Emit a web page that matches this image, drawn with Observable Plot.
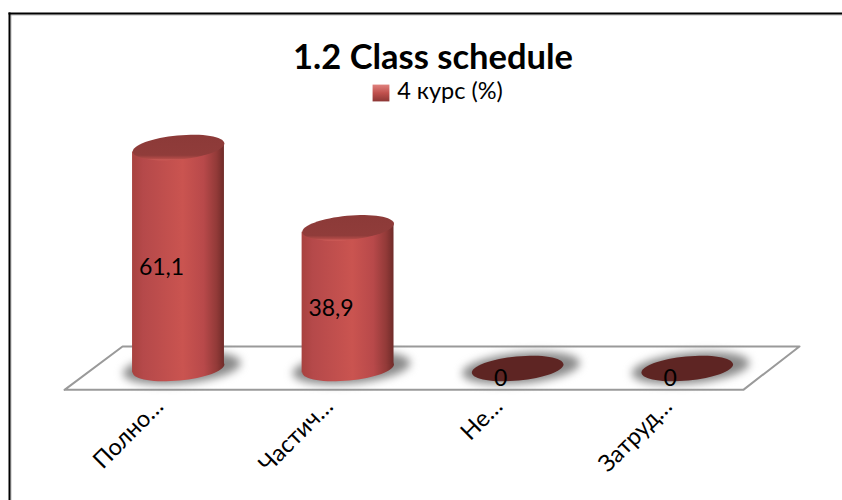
<!DOCTYPE html>
<html>
<head>
<meta charset="utf-8">
<script src="https://cdn.jsdelivr.net/npm/d3@7"></script>
<script src="https://cdn.jsdelivr.net/npm/@observablehq/plot@0.6"></script>
<style>
html,body{margin:0;padding:0;background:#fff}
#chart{width:842px;height:500px}
svg{display:block}
</style>
</head>
<body>
<div id="chart"></div>
<script>
const categories = ["Полно…", "Частич…", "Не…", "Затруд…"];
const values = [61.1, 38.9, 0, 0];
const valueLabels = ["61,1", "38,9", "0", "0"];
const chartTitle = "1.2 Class schedule";
const legendLabel = "4 курс (%)";
const floorX = [-0.672, 3.331, 3.662, -0.330, -0.672];
const floorY = [-5.9, -5.9, 6.1, 6.1, -5.9];

const rows = categories.map((c, i) => ({i, c, v: values[i], label: valueLabels[i]}));
const halfWidth = 0.271;
const tilt = 1.25;

const ellipse = {
  draw(ctx, size) {
    const rx = Math.sqrt(size / Math.PI), ry = rx * 0.262, a = -0.095;
    const n = 64;
    for (let k = 0; k < n; k++) {
      const t = (k / n) * 2 * Math.PI;
      const ex = rx * Math.cos(t), ey = ry * Math.sin(t);
      const px = ex * Math.cos(a) - ey * Math.sin(a);
      const py = ex * Math.sin(a) + ey * Math.cos(a);
      k ? ctx.lineTo(px, py) : ctx.moveTo(px, py);
    }
    ctx.closePath();
  }
};

const bodies = rows.filter(d => d.v > 0).flatMap(d => [
  {i: d.i, x: d.i - halfWidth, y1: -tilt, y2: d.v - tilt},
  {i: d.i, x: d.i + halfWidth, y1: tilt, y2: d.v + tilt}
]);

const defs = () => {
  const s = d3.create("svg:defs");
  const grad = (id, stops, vertical) => {
    const g = s.append("linearGradient").attr("id", id).attr("x1", 0).attr("y1", 0)
      .attr("x2", vertical ? 0 : 1).attr("y2", vertical ? 1 : 0);
    stops.forEach(([o, c]) => g.append("stop").attr("offset", o).attr("stop-color", c));
  };
  const side = [[0, "#a8423f"], [0.12, "#b5494a"], [0.55, "#ca5450"], [0.78, "#b8494a"], [0.92, "#923a38"], [1, "#6f2b29"]];
  grad("side", side, false);
  grad("sideEllipse", side, false);
  grad("cap", [[0, "#8c3a38"], [0.8, "#903c3a"], [0.93, "#b04a47"], [1, "#d2605b"]], true);
  grad("swatch", [[0, "#e0827e"], [0.5, "#c0504d"], [1, "#8c3634"]], true);
  return s.node();
};

const font = "Lato, Carlito, 'Open Sans', sans-serif";

const plot = Plot.plot({
  width: 842,
  height: 500,
  marginTop: 13,
  marginLeft: 9,
  marginRight: 0,
  marginBottom: 0,
  x: {type: "linear", domain: [0, 3], range: [178, 686.7], axis: null},
  y: {type: "linear", domain: [0, 61.1], range: [368, 147], axis: null},
  style: {background: "#fff", fontFamily: font},
  marks: [
    defs,
    Plot.frame({anchor: "top", stroke: "#bbb", strokeWidth: 1, dy: 1.5}),
    Plot.frame({anchor: "left", stroke: "#bbb", strokeWidth: 1, dx: 1.5}),
    Plot.frame({anchor: "top", stroke: "#000", strokeWidth: 2}),
    Plot.frame({anchor: "left", stroke: "#000", strokeWidth: 2}),
    Plot.line(floorX.map((x, k) => ({x, y: floorY[k]})), {
      x: "x", y: "y", fill: "#fff", stroke: "#9a9a9a", strokeWidth: 2, curve: "linear"
    }),
    Plot.dot(rows, {
      x: d => d.i + 0.02, y: d => 0.1, r: 59, symbol: ellipse,
      fill: "#8a8a8a", imageFilter: "blur(4px)"
    }),
    Plot.dot(rows.filter(d => d.v > 0), {x: "i", y: 0, r: 46, symbol: ellipse, fill: "url(#sideEllipse)"}),
    Plot.areaY(bodies, {x: "x", y1: "y1", y2: "y2", z: "i", fill: "url(#side)", curve: "linear"}),
    Plot.dot(rows.filter(d => d.v > 0), {x: "i", y: "v", r: 46, symbol: ellipse, fill: "url(#cap)"}),
    Plot.dot(rows.filter(d => d.v === 0), {x: "i", y: 0, r: 46, symbol: ellipse, fill: "#5e2523"}),
    Plot.text(rows, {
      x: "i", y: d => d.v / 2, text: "label", dx: -17, dy: 10,
      fontSize: 23, fill: "#000"
    }),
    Plot.text(rows, {
      x: "i", y: 0, text: "c", dx: -19, dy: 34, rotate: -45,
      textAnchor: "end", fontSize: 23.5, fill: "#000"
    }),
    Plot.text([chartTitle], {
      frameAnchor: "top", dx: 7, dy: 31, text: d => d,
      fontSize: 34.5, fontWeight: 700, fill: "#000", lineAnchor: "top"
    }),
    Plot.dot([legendLabel], {
      frameAnchor: "top", dx: -45, dy: 79.5, r: 9.5, symbol: "square",
      fill: "url(#swatch)"
    }),
    Plot.text([legendLabel], {
      frameAnchor: "top", dx: 24, dy: 69, text: d => d,
      fontSize: 23.5, fill: "#000", lineAnchor: "top"
    })
  ]
});
document.getElementById("chart").append(plot);
</script>
</body>
</html>
